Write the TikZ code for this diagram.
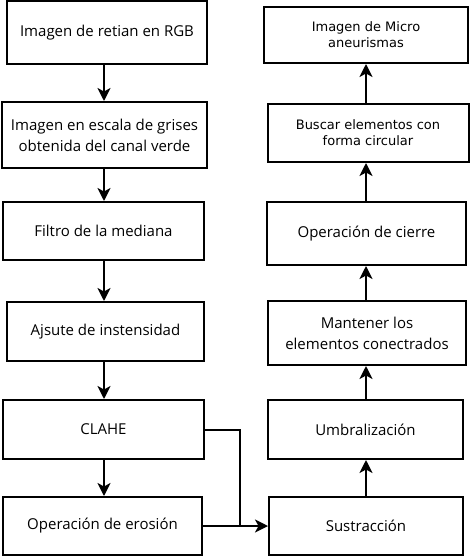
\documentclass[tikz,border=0pt]{standalone}
\usepackage{fontspec}
\setmainfont{Open Sans}
\newfontfamily\dejavu{DejaVu Sans}
\usetikzlibrary{%
  arrows.meta,
}

\begin{document}
\begin{tikzpicture}[%
           x=1pt, y=-1pt,
           paso/.style={
             % The shape:
             rectangle,
             % The border:
             line width=2pt,
             draw=black,
             % The text:
             align=center,
             font=\fontsize{15}{21}\selectfont,
             inner sep=0pt,
           },
           flecha/.style={
             -{Stealth[length=13pt, width=13pt, inset=3.5pt]},
             line width=2pt,
           },
           linea/.style={
             line width=2pt,
           }]

         \useasboundingbox (0,0) rectangle (470,557);

         % left column, top to bottom
         \node[paso, minimum width=200pt, minimum height=63pt] (rgb)       at (107,32.5)  {Imagen de retian en RGB};
         \node[paso, minimum width=205pt, minimum height=66pt] (gris)      at (104.5,135) {Imagen en escala de grises\\obtenida del canal verde};
         \node[paso, minimum width=201pt, minimum height=58pt] (mediana)   at (103.5,231) {Filtro de la mediana};
         \node[paso, minimum width=197pt, minimum height=59pt] (ajuste)    at (105.5,331.5) {Ajsute de instensidad};
         \node[paso, minimum width=201pt, minimum height=59pt] (clahe)     at (103.5,429.5) {CLAHE};
         \node[paso, minimum width=199pt, minimum height=58pt] (erosion)   at (102.5,526) {Operación de erosión};

         % right column, bottom to top
         \node[paso, minimum width=194pt, minimum height=58pt] (resta)     at (366,526) {Sustracción};
         \node[paso, minimum width=195pt, minimum height=59pt] (umbral)    at (365.5,429.5) {Umbralización};
         \node[paso, minimum width=198pt, minimum height=64pt] (conexos)   at (367,333) {Mantener los\\elementos conectrados};
         \node[paso, minimum width=199pt, minimum height=63pt] (cierre)    at (366.5,233.5) {Operación de cierre};
         \node[paso, minimum width=201pt, minimum height=58pt,
               font=\dejavu\fontsize{13}{16}\selectfont] (circulos)  at (368,133) {Buscar elementos con\\forma circular};
         \node[paso, minimum width=204pt, minimum height=56pt,
               font=\dejavu\fontsize{13}{16}\selectfont] (micro)     at (366,35) {Imagen de Micro\\aneurismas};

         \coordinate (union) at (240,526);

         \draw[flecha] (rgb.south -| 104,0) -- (gris.north -| 104,0);
         \draw[flecha] (gris.south -| 104,0) -- (mediana.north -| 104,0);
         \draw[flecha] (mediana.south -| 104,0) -- (ajuste.north -| 104,0);
         \draw[flecha] (ajuste.south -| 104,0) -- (clahe.north -| 104,0);
         \draw[flecha] (clahe.south -| 104,0) -- (erosion.north -| 104,0);

         \draw[linea] (clahe.east) -| (union);
         \draw[flecha] (erosion.east) -- (resta.west);

         \draw[flecha] (resta.north -| 366,0) -- (umbral.south -| 366,0);
         \draw[flecha] (umbral.north -| 366,0) -- (conexos.south -| 366,0);
         \draw[flecha] (conexos.north -| 366,0) -- (cierre.south -| 366,0);
         \draw[flecha] (cierre.north -| 366,0) -- (circulos.south -| 366,0);
         \draw[flecha] (circulos.north -| 366,0) -- (micro.south -| 366,0);

     \end{tikzpicture}
\end{document}
